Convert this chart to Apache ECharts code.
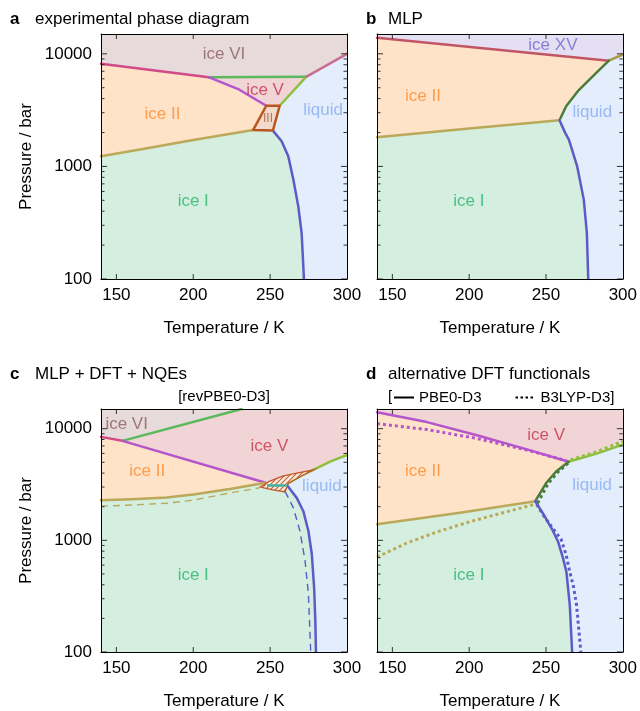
<!DOCTYPE html>
<html><head><meta charset="utf-8">
<script src="https://cdn.jsdelivr.net/npm/echarts@6/dist/echarts.min.js"></script>
<style>html,body{margin:0;padding:0;background:#fff}#c{width:640px;height:711px}</style>
</head><body><div id="c"></div>
<script>
// ---------- axis data ----------
const T_MIN = 140, T_MAX = 300, P_MIN = 100, P_MAX = 15000;
const X_TICKS = [150, 200, 250, 300];
const X_TICKS_IN = [150, 200, 250];
const Y_MAJOR = [100, 1000, 10000];
const Y_MINOR = [200, 300, 400, 500, 600, 700, 800, 900, 2000, 3000, 4000, 5000, 6000, 7000, 8000, 9000];

// ---------- panel a: experimental ----------
const A_VI_II = [[140, 8150], [210, 6200]];
const A_V_VI = [[210, 6200], [273.4, 6250]];
const A_II_V = [[210, 6200], [230, 4800], [247.5, 3460]];
const A_V_L = [[256.2, 3460], [273.4, 6250]];
const A_VI_L = [[273.4, 6250], [300, 10000]];
const A_III = [[247.5, 3460], [256.2, 3460], [251.8, 2080], [239, 2110]];
const A_I_II = [[140, 1230], [170, 1450], [200, 1720], [239, 2110]];
const A_I_L = [[251.8, 2080], [257.5, 1675], [261.8, 1231], [265.1, 764], [268.3, 443], [270.5, 256], [272, 100]];
const A_LABELS = [['ice VI', 220, 10000], ['ice V', 246.7, 4750], ['ice II', 180, 2930], ['ice I', 200, 490], ['liquid', 284.4, 3140], ['III', 248.6, 2640]];

// ---------- panel b: MLP ----------
const B_XV_II = [[140, 13870], [290.9, 8700]];
const B_XV_L = [[290.9, 8700], [300, 9860]];
const B_II_L = [[258.8, 2570], [263.1, 3427], [270.7, 4656], [282.7, 6770], [290.9, 8700]];
const B_I_II = [[140, 1816], [200, 2170], [258.8, 2570]];
const B_I_L = [[258.8, 2570], [262.5, 1986], [264.9, 1732], [270.3, 1000], [274.6, 507], [276.6, 256], [277.5, 100]];
const B_LABELS = [['ice XV', 254.5, 11860], ['ice II', 169.9, 4210], ['liquid', 280.1, 3050], ['ice I', 199.8, 493]];

// ---------- panel c: MLP + DFT + NQEs ----------
const C_VI_II = [[140, 8440], [153.9, 7780]];
const C_VI_V = [[153.9, 7780], [231.5, 15000]];
const C_II_V = [[153.9, 7780], [247, 3280]];
const C_I_II = [[140, 2285], [160, 2333], [182.7, 2415], [200, 2570], [223.9, 2884], [247, 3280]];
const C_I_II_DASH = [[140, 2023], [160, 2070], [182.7, 2150], [200, 2290], [223.9, 2655], [243, 2950]];
const C_TEAL = [[248, 3105], [260.8, 3105]];
const C_V_L = [[261.8, 3256], [270, 3780], [278.1, 4274], [289, 5060], [300, 5810]];
const C_I_L = [[260.8, 3150], [264, 2750], [267.3, 2400], [271.6, 1824], [274.9, 1213], [277.1, 754], [278.6, 382], [279.4, 193], [279.8, 100]];
const C_I_L_DASH = [[259.7, 2744], [262.6, 2300], [265.1, 1954], [269.4, 1213], [272.7, 658], [274.9, 333], [276.4, 100]];
const C_HATCH = [[243.5, 3000], [249.5, 3380], [258, 3750], [267.3, 3990], [278.1, 4274], [270, 3750], [261.8, 3256], [259.7, 2711], [251, 2850]];
const C_LABELS = [['ice VI', 156.7, 10920], ['ice V', 249.5, 6890], ['ice II', 170.1, 4190], ['ice I', 200, 484], ['liquid', 283.7, 3040]];

// ---------- panel d: alternative functionals (solid PBE0-D3, dotted B3LYP-D3) ----------
const D_II_V = [[140, 14030], [172.5, 11450], [205, 8730], [237.6, 6520], [264.7, 5060]];
const D_II_V_DOT = [[140, 11090], [172.5, 9810], [205, 8170], [237.6, 6430], [263.4, 5160]];
const D_V_L = [[264.7, 5060], [283.5, 6010], [300, 7200]];
const D_V_L_DOT = [[266, 5250], [283.5, 6250], [300, 7700]];
const D_II_L = [[243, 2240], [250.1, 3260], [256.6, 4130], [264.7, 5060]];
const D_II_L_DOT = [[244.5, 2150], [251.5, 3250], [257.8, 4100], [265, 5000]];
const D_I_II = [[140, 1390], [194.1, 1766], [243, 2240]];
const D_I_II_DOT = [[140, 708], [160, 955], [180, 1202], [200, 1462], [220, 1738], [242, 2089]];
const D_I_L = [[243, 2240], [248.5, 1700], [254, 1256], [258, 960], [261, 700], [263.3, 519], [265.5, 262], [267, 100]];
const D_I_L_DOT = [[244, 2100], [248, 1700], [254, 1300], [259.8, 1023], [263, 750], [265.5, 519], [268, 380], [269.9, 262], [272.7, 100]];
const D_LABELS = [['ice V', 250.1, 8730], ['ice II', 169.9, 4130], ['liquid', 280, 3100], ['ice I', 199.8, 484]];

// ---------- styles ----------
const FONT = "'Liberation Sans', Arial, Helvetica, sans-serif";
const FILL = { VI: '#e7dadb', II: '#fee3c9', V: '#f1d4d5', I: '#d4eedf', L: '#e3edfb', XV: '#e4dff3', III: '#f1d9cb' };
const LINE = {
  VI_II: '#d24a86', V_VI: '#5cb85c', II_V: '#b455cc', V_L: '#8dc03f', VI_L: '#c86e8e',
  III: '#b9561f', I_II: '#bba95a', I_L: '#5b5bc9', II_L: '#4a7d3a', XV_II: '#c25565', XV_L: '#a89a4a', TEAL: '#3fb3a0'
};
const LABEL_COLORS = { 'ice VI': '#8c5d5f', 'ice V': '#c4334b', 'ice II': '#ff8a29', 'ice I': '#27b46b', 'liquid': '#86adf4', 'ice XV': '#7766cc', 'III': '#a0603a' };
const GRIDS = [
  { left: 101, top: 34, width: 246, height: 245 },
  { left: 377, top: 34, width: 246, height: 245 },
  { left: 101, top: 409, width: 246, height: 245 },
  { left: 377, top: 409, width: 246, height: 245 }
];

const rev = a => a.slice().reverse();
const cat = (...parts) => [].concat(...parts);

// ---------- axes (one bottom/top x and one left/right y per panel, frame lines only on the extra ones) ----------
const xAxes = [], yAxes = [];
GRIDS.forEach((g, i) => {
  const showY = i % 2 === 0;
  const xb = { gridIndex: i, type: 'value', min: T_MIN, max: T_MAX, z: 20, splitLine: { show: false },
    axisTick: { show: false },
    axisLine: { show: true, onZero: false, lineStyle: { color: '#000', width: 1 } } };
  xAxes.push(Object.assign({}, xb, { position: 'bottom',
    axisLabel: { show: true, customValues: X_TICKS, fontSize: 17, color: '#000', margin: 8, fontFamily: FONT },
    name: 'Temperature / K', nameLocation: 'middle', nameGap: 41,
    nameTextStyle: { fontSize: 17, color: '#000', fontFamily: FONT } }));
  xAxes.push(Object.assign({}, xb, { position: 'top', axisLabel: { show: false } }));
  const yb = { gridIndex: i, type: 'log', logBase: 10, min: P_MIN, max: P_MAX, z: 20, splitLine: { show: false },
    axisTick: { show: false },
    axisLine: { show: true, onZero: false, lineStyle: { color: '#000', width: 1 } } };
  yAxes.push(Object.assign({}, yb, { position: 'left',
    axisLabel: { show: showY, customValues: Y_MAJOR, formatter: v => String(Math.round(v)), fontSize: 17, color: '#000', margin: 9, fontFamily: FONT },
    name: showY ? 'Pressure / bar' : '', nameLocation: 'middle', nameGap: 66,
    nameTextStyle: { fontSize: 17, color: '#000', fontFamily: FONT } }));
  yAxes.push(Object.assign({}, yb, { position: 'right', axisLabel: { show: false } }));
});

// ---------- series helpers ----------
const series = [];
function region(gi, pts, fill, extra) {
  series.push({ type: 'custom', xAxisIndex: 2 * gi, yAxisIndex: 2 * gi, clip: true, silent: true, z: 1,
    data: pts,
    renderItem: (params, api) => params.dataIndex === 0 ? {
      type: 'polygon', shape: { points: pts.map(p => api.coord(p)) },
      style: Object.assign({ fill: fill, stroke: fill, lineWidth: 0.6 }, extra || {})
    } : null });
}
function boundary(gi, pts, color, extra) {
  series.push({ type: 'line', xAxisIndex: 2 * gi, yAxisIndex: 2 * gi, data: pts, symbol: 'none', silent: true,
    clip: true, z: 5, lineStyle: Object.assign({ color: color, width: 2.5, cap: 'round', join: 'round' }, extra || {}) });
}
function labels(gi, items) {
  series.push({ type: 'scatter', xAxisIndex: 2 * gi, yAxisIndex: 2 * gi, symbolSize: 1, silent: true, z: 10,
    itemStyle: { color: 'transparent' },
    data: items.map(([name, T, P]) => ({ name: name, value: [T, P],
      label: { color: LABEL_COLORS[name], fontSize: name === 'III' ? 12 : 17 } })),
    label: { show: true, position: 'inside', formatter: p => p.name, fontFamily: FONT } });
}
// inward tick marks on all four sides, placed through the panel's own scales
function ticks(gi, values, dir, len) {
  series.push({ type: 'custom', xAxisIndex: 2 * gi, yAxisIndex: 2 * gi, clip: false, silent: true, z: 15,
    data: values.map(v => dir === 'y' ? [T_MIN, v] : [v, P_MIN]),
    renderItem: (params, api) => {
      const st = { stroke: '#333', lineWidth: 1 };
      if (dir === 'y') {
        const v = api.value(1), a = api.coord([T_MIN, v]), b = api.coord([T_MAX, v]);
        return { type: 'group', children: [
          { type: 'line', shape: { x1: a[0], y1: a[1], x2: a[0] + len, y2: a[1] }, style: st },
          { type: 'line', shape: { x1: b[0] - len, y1: b[1], x2: b[0], y2: b[1] }, style: st }] };
      }
      const v = api.value(0), a = api.coord([v, P_MIN]), b = api.coord([v, P_MAX]);
      return { type: 'group', children: [
        { type: 'line', shape: { x1: a[0], y1: a[1], x2: a[0], y2: a[1] - len }, style: st },
        { type: 'line', shape: { x1: b[0], y1: b[1], x2: b[0], y2: b[1] + len }, style: st }] };
    } });
}
const DOT = { width: 3, type: [3, 3], cap: 'butt' };
const DASH = { width: 1.4, type: [7, 5], cap: 'butt' };

// ---------- panel a ----------
region(0, cat([[T_MIN, P_MAX], [T_MAX, P_MAX], [T_MAX, 10000]], rev(A_VI_L), rev(A_V_VI), rev(A_VI_II)), FILL.VI);
region(0, cat(A_V_VI, rev(A_V_L), rev(A_II_V)), FILL.V);
region(0, cat(A_VI_II, A_II_V, [A_III[3]], rev(A_I_II)), FILL.II);
region(0, cat([[T_MIN, P_MIN]], A_I_II, A_I_L), FILL.I);
region(0, cat([[T_MAX, 10000], [T_MAX, P_MIN]], rev(A_I_L), A_V_L, A_VI_L), FILL.L);
region(0, A_III, FILL.III);
boundary(0, A_VI_II, LINE.VI_II);
boundary(0, A_V_VI, LINE.V_VI);
boundary(0, A_II_V, LINE.II_V);
boundary(0, A_V_L, LINE.V_L);
boundary(0, A_VI_L, LINE.VI_L);
boundary(0, A_I_II, LINE.I_II);
boundary(0, A_I_L, LINE.I_L);
boundary(0, cat(A_III, [A_III[0]]), LINE.III);
labels(0, A_LABELS);

// ---------- panel b ----------
region(1, cat([[T_MIN, P_MAX], [T_MAX, P_MAX]], rev(B_XV_L), rev(B_XV_II)), FILL.XV);
region(1, cat(B_XV_II, rev(B_II_L), rev(B_I_II)), FILL.II);
region(1, cat([[T_MIN, P_MIN]], B_I_II, B_I_L), FILL.I);
region(1, cat([[T_MAX, 9860], [T_MAX, P_MIN]], rev(B_I_L), B_II_L, B_XV_L), FILL.L);
boundary(1, B_XV_II, LINE.XV_II);
boundary(1, B_XV_L, LINE.XV_L);
boundary(1, B_II_L, LINE.II_L);
boundary(1, B_I_II, LINE.I_II);
boundary(1, B_I_L, LINE.I_L);
labels(1, B_LABELS);

// ---------- panel c ----------
const hatchCanvas = (() => {
  const s = 5, c = document.createElement('canvas'); c.width = s; c.height = s;
  const x = c.getContext('2d');
  x.fillStyle = '#f7ebe2'; x.fillRect(0, 0, s, s);
  x.strokeStyle = '#c4602c'; x.lineWidth = 1.1;
  x.beginPath(); x.moveTo(0, s); x.lineTo(s, 0); x.moveTo(-1, 1); x.lineTo(1, -1); x.moveTo(s - 1, s + 1); x.lineTo(s + 1, s - 1); x.stroke();
  return c;
})();
region(2, cat([[T_MIN, P_MAX]], rev(C_VI_V), rev(C_VI_II)), FILL.VI);
region(2, cat([[231.5, P_MAX], [T_MAX, P_MAX]], rev(C_V_L), rev(C_II_V), C_VI_V), FILL.V);
region(2, cat(C_VI_II, C_II_V, rev(C_I_II)), FILL.II);
region(2, cat([[T_MIN, P_MIN]], C_I_II, C_I_L), FILL.I);
region(2, cat([[T_MAX, 5810], [T_MAX, P_MIN]], rev(C_I_L), C_V_L), FILL.L);
boundary(2, C_VI_II, LINE.VI_II);
boundary(2, C_VI_V, LINE.V_VI);
boundary(2, C_II_V, LINE.II_V);
boundary(2, C_I_II, LINE.I_II);
boundary(2, C_I_II_DASH, LINE.I_II, DASH);
boundary(2, C_I_L_DASH, LINE.I_L, DASH);
boundary(2, C_V_L, LINE.V_L);
boundary(2, C_I_L, LINE.I_L);
series.push({ type: 'custom', xAxisIndex: 4, yAxisIndex: 4, clip: true, silent: true, z: 6, data: C_HATCH,
  renderItem: (params, api) => params.dataIndex === 0 ? {
    type: 'polygon', shape: { points: C_HATCH.map(p => api.coord(p)) },
    style: { fill: { image: hatchCanvas, repeat: 'repeat' }, stroke: '#c0582a', lineWidth: 1.3 }
  } : null });
series.push({ type: 'line', xAxisIndex: 4, yAxisIndex: 4, data: C_TEAL, symbol: 'none', silent: true, z: 7,
  lineStyle: { color: LINE.TEAL, width: 2.5 } });
labels(2, C_LABELS);

// ---------- panel d ----------
region(3, cat([[T_MIN, P_MAX], [T_MAX, P_MAX]], rev(D_V_L), rev(D_II_V)), FILL.V);
region(3, cat(D_II_V, rev(D_II_L), rev(D_I_II)), FILL.II);
region(3, cat([[T_MIN, P_MIN]], D_I_II, D_I_L), FILL.I);
region(3, cat([[T_MAX, 7200], [T_MAX, P_MIN]], rev(D_I_L), D_II_L, D_V_L), FILL.L);
boundary(3, D_II_V_DOT, LINE.II_V, DOT);
boundary(3, D_V_L_DOT, LINE.V_L, DOT);
boundary(3, D_II_L_DOT, LINE.II_L, DOT);
boundary(3, D_I_II_DOT, LINE.I_II, DOT);
boundary(3, D_I_L_DOT, LINE.I_L, DOT);
boundary(3, D_II_V, LINE.II_V);
boundary(3, D_V_L, LINE.V_L);
boundary(3, D_II_L, LINE.II_L);
boundary(3, D_I_II, LINE.I_II);
boundary(3, D_I_L, LINE.I_L);
labels(3, D_LABELS);
// legend entries
series.push({ name: 'PBE0-D3', type: 'line', xAxisIndex: 6, yAxisIndex: 6, data: [], symbol: 'none',
  lineStyle: { color: '#000', width: 2.5 }, itemStyle: { color: '#000' } });
series.push({ name: 'B3LYP-D3', type: 'line', xAxisIndex: 6, yAxisIndex: 6, data: [], symbol: 'none',
  lineStyle: { color: '#000', width: 2.5, type: [2.5, 2.5] }, itemStyle: { color: '#000' } });

// ---------- ticks ----------
for (let gi = 0; gi < 4; gi++) {
  ticks(gi, Y_MAJOR, 'y', 6);
  ticks(gi, Y_MINOR, 'y', 3.5);
  ticks(gi, X_TICKS_IN, 'x', 5);
}

// ---------- titles ----------
const T_BOLD = { fontWeight: 'bold', fontSize: 17, color: '#000', fontFamily: FONT };
const T_NORM = { fontWeight: 'normal', fontSize: 17, color: '#000', fontFamily: FONT };
const titles = [
  { text: 'a', left: 10, top: 11, textStyle: T_BOLD, padding: 0 },
  { text: 'experimental phase diagram', left: 35, top: 11, textStyle: T_NORM, padding: 0 },
  { text: 'b', left: 366, top: 11, textStyle: T_BOLD, padding: 0 },
  { text: 'MLP', left: 388, top: 11, textStyle: T_NORM, padding: 0 },
  { text: 'c', left: 10, top: 366, textStyle: T_BOLD, padding: 0 },
  { text: 'MLP + DFT + NQEs', left: 35, top: 366, textStyle: T_NORM, padding: 0 },
  { text: 'd', left: 366, top: 366, textStyle: T_BOLD, padding: 0 },
  { text: 'alternative DFT functionals', left: 388, top: 366, textStyle: T_NORM, padding: 0 }
];

const chart = echarts.init(document.getElementById('c'), null, { renderer: 'canvas' });
chart.setOption({
  animation: false,
  backgroundColor: '#fff',
  textStyle: { fontFamily: FONT },
  title: titles,
  grid: GRIDS.map(g => Object.assign({ containLabel: false }, g)),
  xAxis: xAxes,
  yAxis: yAxes,
  legend: { data: ['PBE0-D3', 'B3LYP-D3'], left: 393, top: 390, itemWidth: 20, itemHeight: 14, itemGap: 33,
    selectedMode: false, itemStyle: { opacity: 0 }, padding: 0,
    formatter: n => n === 'B3LYP-D3' ? n + ']' : n,
    textStyle: { fontSize: 15, color: '#000', fontFamily: FONT } },
  graphic: [
    { type: 'text', x: 224, y: 397, silent: true,
      style: { text: '[revPBE0-D3]', fontSize: 15, fontFamily: FONT, fill: '#000', align: 'center', verticalAlign: 'middle' } },
    { type: 'text', x: 388, y: 397, silent: true,
      style: { text: '[', fontSize: 15, fontFamily: FONT, fill: '#000', align: 'left', verticalAlign: 'middle' } }
  ],
  series: series
});
</script></body></html>
